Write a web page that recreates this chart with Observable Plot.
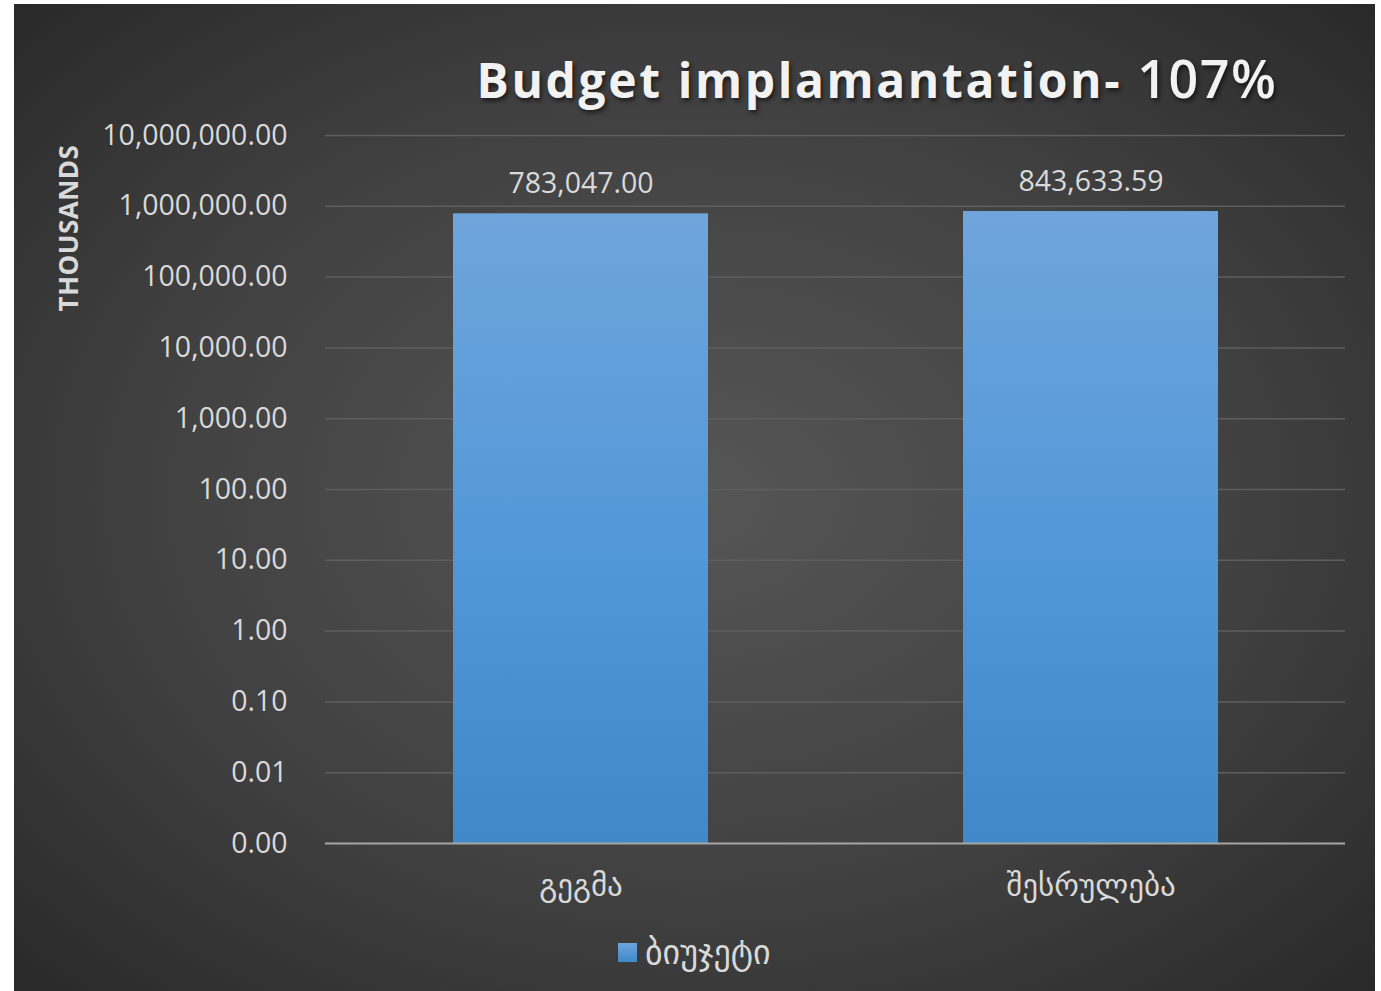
<!DOCTYPE html>
<html>
<head>
<meta charset="utf-8">
<script src="https://cdn.jsdelivr.net/npm/d3@7"></script>
<script src="https://cdn.jsdelivr.net/npm/@observablehq/plot@0.6"></script>
<style>
  html, body { margin: 0; padding: 0; background: #ffffff; }
  #panel {
    position: absolute; left: 14px; top: 4px; width: 1361px; height: 987px;
    background: radial-gradient(ellipse 75% 75% at 50% 50%, #565656 0%, #404040 55%, #262626 100%);
  }
  #chart { position: absolute; left: 0; top: 0; }
  .title {
    position: absolute; left: 877px; top: 42px; transform: translateX(-50%);
    font-family: "Open Sans", sans-serif; font-weight: 700; font-size: 48px;
    letter-spacing: 2.6px; color: #f2f2f2; white-space: nowrap;
    text-shadow: 2px 3px 4px rgba(0,0,0,0.55);
  }
  .title .pct { font-weight: 600; font-size: 52px; letter-spacing: 1.5px; }
  .ylabel {
    position: absolute; left: 68px; top: 228px;
    transform: translate(-50%, -50%) rotate(-90deg);
    font-family: "Open Sans", sans-serif; font-weight: 700; font-size: 26px;
    color: #d9d9d9; white-space: nowrap; letter-spacing: 0.5px;
  }
  .legend {
    position: absolute; left: 618px; top: 932px; display: flex; align-items: center;
    font-family: "DejaVu Sans", sans-serif; font-size: 34px; color: #d9d9d9;
  }
  .legend .sw {
    width: 19px; height: 19px; margin-right: 8px;
    background: linear-gradient(#6fa5db, #4088c8);
  }
</style>
</head>
<body>
<div id="panel"></div>
<div id="chart"></div>
<div class="title">Budget implamantation- <span class="pct">107%</span></div>
<div class="ylabel">THOUSANDS</div>
<div class="legend"><div class="sw"></div><span id="legtext"></span></div>
<script>
const categories = ["გეგმა", "შესრულება"];
const values = [783047.00, 843633.59];
const seriesName = "ბიუჯეტი";
const yTicks = [0.001, 0.01, 0.1, 1, 10, 100, 1000, 10000, 100000, 1000000, 10000000];

document.getElementById("legtext").textContent = seriesName;

const data = categories.map((c, i) => ({category: c, value: values[i]}));
const fmt = d3.format(",.2f");
const yMin = yTicks[0];

const defsMark = () => {
  const defs = d3.create("svg:defs");
  const g = defs.append("linearGradient").attr("id", "barGrad")
    .attr("x1", 0).attr("y1", 0).attr("x2", 0).attr("y2", 1);
  g.append("stop").attr("offset", "0%").attr("stop-color", "#6fa5db");
  g.append("stop").attr("offset", "50%").attr("stop-color", "#5498d9");
  g.append("stop").attr("offset", "100%").attr("stop-color", "#4088c8");
  const f = defs.append("filter").attr("id", "shadow").attr("x", "-10%").attr("y", "-10%")
    .attr("width", "130%").attr("height", "130%");
  f.append("feDropShadow").attr("dx", 3).attr("dy", 3).attr("stdDeviation", 4)
    .attr("flood-color", "#000").attr("flood-opacity", 0.45);
  return defs.node();
};

const chart = Plot.plot({
  width: 1381,
  height: 991,
  marginLeft: 325,
  marginRight: 36,
  marginTop: 135,
  marginBottom: 148,
  style: {background: "transparent", overflow: "visible"},
  x: {
    domain: categories,
    paddingInner: 0.5,
    paddingOuter: 0.25,
    label: null,
    axis: null
  },
  y: {
    type: "log",
    domain: [yMin, 10000000],
    axis: null,
    label: null
  },
  marks: [
    defsMark,
    Plot.ruleY(yTicks.slice(1), {stroke: "#5e5e5e", strokeWidth: 1.5}),
    Plot.rectY(data, {
      x: "category", y1: yMin, y2: "value",
      fill: "url(#barGrad)"
    }),
    Plot.ruleY([yMin], {stroke: "#a6a6a6", strokeWidth: 2}),
    Plot.text(data, {
      x: "category", y: "value", text: d => fmt(d.value),
      dy: -30, fill: "#d9d9d9", fontSize: 28.5,
      fontFamily: "Open Sans, sans-serif"
    }),
    Plot.axisY(yTicks, {
      tickFormat: fmt, tickSize: 0, tickPadding: 38,
      fontSize: 28.5, fill: "#d9d9d9", label: null,
      fontFamily: "Open Sans, sans-serif"
    }),
    Plot.axisX(categories, {
      tickSize: 0, tickPadding: 30, fontSize: 31, fill: "#d9d9d9", label: null,
      fontFamily: "DejaVu Sans, sans-serif"
    })
  ]
});
chart.querySelectorAll("rect").forEach(r => {
  if (r.getAttribute("fill") === "url(#barGrad)") r.setAttribute("filter", "url(#shadow)");
});
document.getElementById("chart").appendChild(chart);
</script>
</body>
</html>
